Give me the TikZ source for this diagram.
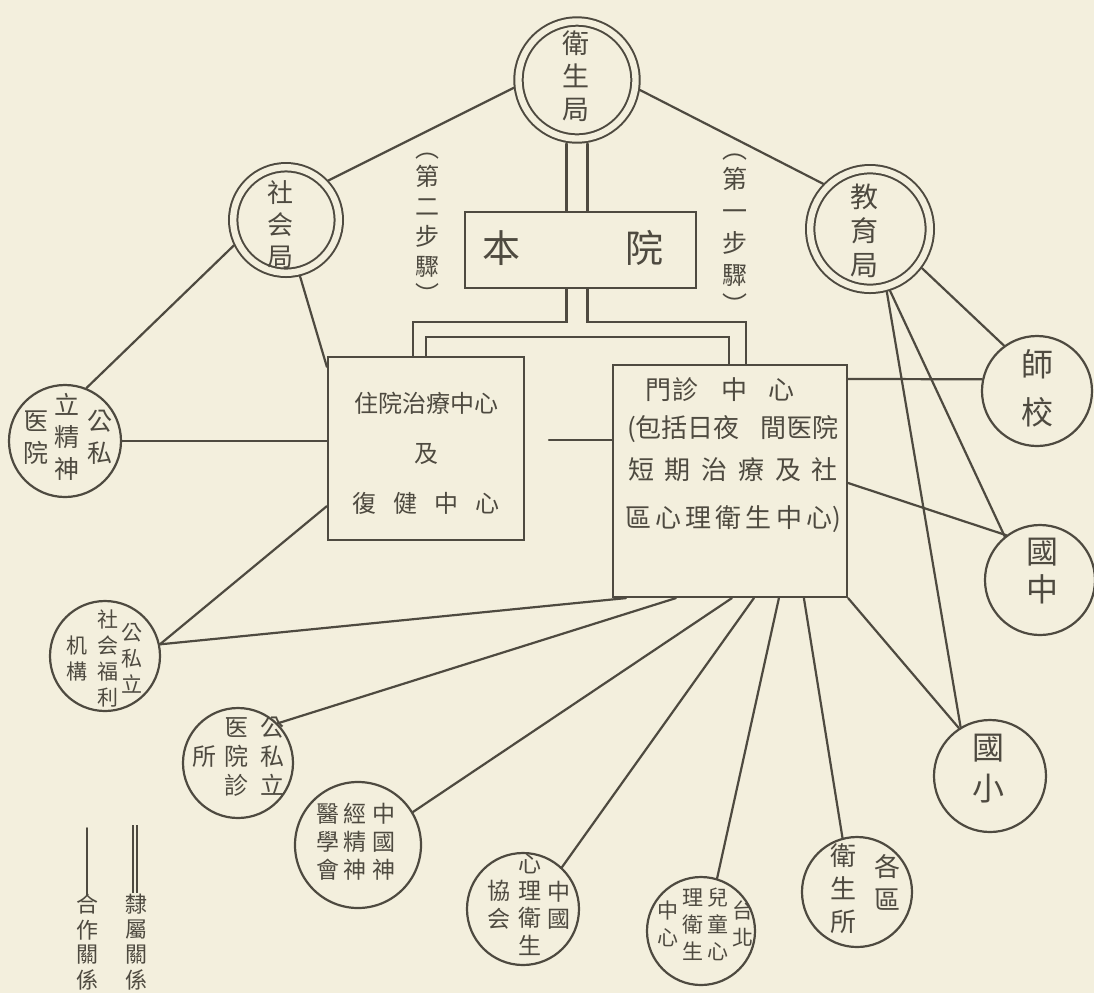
\documentclass[tikz,border=0pt]{standalone}
\usepackage{fontspec}
\setmainfont{Noto Sans CJK TC}
\usetikzlibrary{calc}
\definecolor{paper}{RGB}{243,239,221}
\definecolor{ink}{RGB}{78,74,64}
\newcommand\colstack[1]{\begin{tabular}{@{}c@{}}#1\end{tabular}}
\newcommand\fsz[2]{\fontsize{#1}{#2}\selectfont}
\begin{document}
\begin{tikzpicture}[x=0.5pt,y=-0.5pt,
 line/.style={draw=ink,line width=1.1pt,line cap=round},
 ring/.style={circle,draw=ink,line width=1pt,double=paper,double distance=3.2pt,inner sep=0pt,outer sep=2.6pt},
 disc/.style={circle,draw=ink,line width=1.1pt,inner sep=0pt},
 boxnode/.style={rectangle,draw=ink,line width=1.1pt,inner sep=0pt},
 lbl/.style={inner sep=0pt,text=ink}]
\path[use as bounding box,fill=paper] (0,0) rectangle (1094,993);

% ---------- bureaus (double rings)
\node[ring,minimum size=58.5pt] (wsj) at (577,80) {};
\node[lbl,font=\fsz{13.5}{16.5}] (wsj-t) at (576,80) {\colstack{衛\\生\\局}};
\node[ring,minimum size=52.8pt] (shj) at (286,220) {};
\node[lbl,font=\fsz{13}{16}] (shj-t) at (280,228) {\colstack{社\\会\\局}};
\node[ring,minimum size=59.8pt] (jyj) at (870,229) {};
\node[lbl,font=\fsz{14}{17}] (jyj-t) at (864,235) {\colstack{教\\育\\局}};

% ---------- boxes
\node[boxnode,minimum width=115.5pt,minimum height=38pt] (benyuan) at (580.5,250) {};
\node[lbl,font=\fsz{19}{22}] (benyuan-t) at (573,248) {本\hspace{53pt}院};
\node[boxnode,minimum width=98pt,minimum height=91.5pt] (zhuyuan) at (426,448.5) {};
\node[lbl,font=\fsz{12}{25},align=center] (zhuyuan-t) at (426,453) {住院治療中心\\及\\\makebox[74pt][s]{復\hfill 健\hfill 中\hfill 心}};
\node[boxnode,minimum width=117pt,minimum height=116pt] (menzhen) at (730,481) {};
\node[lbl,font=\fsz{13}{21},align=center] (menzhen-t) at (733,455) {\makebox[75pt][s]{門\hspace{1pt}診\hfill 中\hfill 心}\rule{13pt}{0pt}\\[-2pt]\makebox[106pt][s]{(包括日夜\hfill 間医院}\\\makebox[105pt][s]{短\hfill 期\hfill 治\hfill 療\hfill 及\hfill 社}\\[3pt]\makebox[108pt][s]{區\hfill 心\hfill 理\hfill 衛\hfill 生\hfill 中\hfill 心)}};

% ---------- step labels
\node[lbl,font=\fsz{12}{15}] (step2) at (427,224) {\colstack{︵\\[-1pt]第\\二\\步\\驟\\[-1pt]︶}};
\node[lbl,font=\fsz{12.5}{16}] (step1) at (735,230) {\colstack{︵\\[-1pt]第\\一\\步\\驟\\[-1pt]︶}};

% ---------- single circles
\node[disc,minimum size=56pt] (jsy) at (65,441) {};
\node[lbl,font=\fsz{12.5}{16}] (jsy-t) at (68,440) {\colstack{医\\院}\hspace{3pt}\colstack{立\\精\\神}\hspace{4pt}\colstack{公\\私}};
\node[disc,minimum size=55pt] (shf) at (105,656) {};
\node[lbl,font=\fsz{10.5}{13}] (shf-t) at (105,661) {\colstack{机\\構}\hspace{5pt}\colstack{社\\会\\福\\利}\hspace{1.5pt}\colstack{公\\私\\立}};
\node[disc,minimum size=55pt] (zs) at (238,763) {};
\node[lbl,font=\fsz{12}{14.5}] (zs-t) at (238,760) {\colstack{所}\hspace{4pt}\colstack{医\\院\\診}\hspace{6pt}\colstack{公\\私\\立}};
\node[disc,minimum size=63pt] (sj) at (358,845) {};
\node[lbl,font=\fsz{11.5}{14}] (sj-t) at (356,845) {\colstack{醫\\學\\會}\hspace{2pt}\colstack{經\\精\\神}\hspace{3pt}\colstack{中\\國\\神}};
\node[disc,minimum size=56pt] (xh) at (523,909) {};
\node[lbl,font=\fsz{11.5}{13.5}] (xh-t) at (529,908) {\colstack{協\\会}\hspace{4pt}\colstack{心\\理\\衛\\生}\hspace{3pt}\colstack{中\\國}};
\node[disc,minimum size=54pt] (tb) at (701,931) {};
\node[lbl,font=\fsz{10.5}{13.5}] (tb-t) at (705,927) {\colstack{中\\心}\hspace{2pt}\colstack{理\\衛\\生}\hspace{2pt}\colstack{兒\\童\\心}\hspace{2pt}\colstack{台\\北}};
\node[disc,minimum size=55pt] (gq) at (857,892) {};
\node[lbl,font=\fsz{13}{16.5}] (gq-t) at (865,892) {\colstack{衛\\生\\所}\hspace{9pt}\raisebox{3pt}{\colstack{各\\區}}};
\node[disc,minimum size=56pt] (gx) at (990,776) {};
\node[lbl,font=\fsz{16}{20.5}] (gx-t) at (988,772) {\colstack{國\\小}};
\node[disc,minimum size=55pt] (gz) at (1040,580) {};
\node[lbl,font=\fsz{16}{18}] (gz-t) at (1042,575) {\colstack{國\\中}};
\node[disc,minimum size=55pt] (sx) at (1037,391) {};
\node[lbl,font=\fsz{16}{24}] (sx-t) at (1037,391) {\colstack{師\\校}};

% ---------- subordinate (double) connectors
\draw[line] ($(wsj.south)+(-10.5,0)$) -- ($(wsj.south |- benyuan.north)+(-10.5,0)$);
\draw[line] ($(wsj.south)+(10.5,0)$) -- ($(wsj.south |- benyuan.north)+(10.5,0)$);
\draw[line] ($(wsj.south |- benyuan.south)+(-10.5,0)$) |- ($(zhuyuan.north)+(-13,-34)$) -- ($(zhuyuan.north)+(-13,0)$);
\draw[line] (zhuyuan.north) |- ($(menzhen.north)+(-1,-27)$) -- ($(menzhen.north)+(-1,0)$);
\draw[line] ($(wsj.south |- benyuan.south)+(10.5,0)$) |- ($(menzhen.north)+(16,-42)$) -- ($(menzhen.north)+(16,0)$);

% ---------- cooperation (single) connectors
\draw[line] (wsj.187) -- (shj.43);
\draw[line] (wsj.351) -- (jyj.136);
\draw[line] (shj.206) -- (jsy.68);
\draw[line] (shj.-76) -- ($(zhuyuan.north west)+(0,11)$);
\draw[line] (jsy.east) -- (jsy.east -| zhuyuan.west);
\draw[line] (shf.12) -- ($(zhuyuan.south west)+(0,-35)$);
\draw[line] (shf.12) -- ($(menzhen.south west)+(14,0)$);
\coordinate (gapstart) at (549,440);
\draw[line] (gapstart) -- (gapstart -| menzhen.west);
\draw[line] ($(menzhen.south west)+(64,0)$) -- (zs.45);
\draw[line] ($(menzhen.south west)+(120,0)$) -- (sj.31);
\draw[line] ($(menzhen.south west)+(142,0)$) -- (xh.47);
\draw[line] ($(menzhen.south west)+(167,0)$) -- (tb.73);
\draw[line] ($(menzhen.south west)+(192,0)$) -- (gq.105);
\draw[line] (menzhen.south east) -- (gx.123);
\draw[line] ($(menzhen.north east)+(0,15)$) -- (sx.168);
\draw[line] ($(menzhen.east)+(0,2)$) -- (gz.127);
\draw[line] (jyj.-37) -- (sx.126);
\draw[line] (jyj.-72) -- (gz.129);
\draw[line] (jyj.-75) -- (gx.121);

% ---------- legend
\coordinate (hz1) at (87,828);
\coordinate (hz2) at (87,895);
\draw[line,line width=0.8pt] (hz1) -- (hz2);
\node[lbl,font=\fsz{11}{11.7}] (hzt) at (87,945) {\colstack{合\\作\\關\\係}};
\coordinate (ls1) at (135,825);
\coordinate (ls2) at (135,893);
\draw[draw=ink,line width=0.6pt,double=paper,double distance=1.4pt] (ls1) -- (ls2);
\node[lbl,font=\fsz{11}{12}] (lst) at (137,945) {\colstack{隸\\屬\\關\\係}};
\end{tikzpicture}
\end{document}
